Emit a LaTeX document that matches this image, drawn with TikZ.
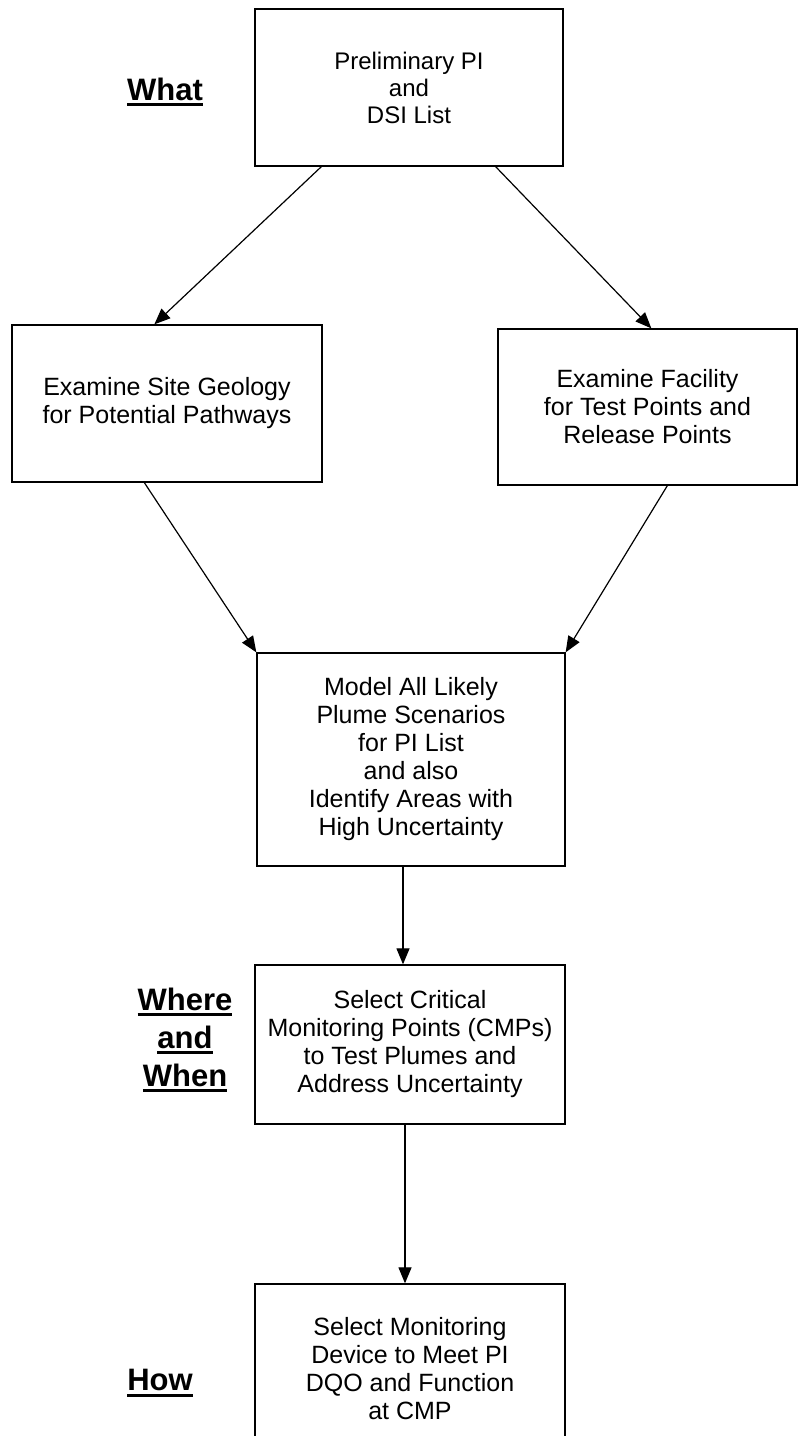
\documentclass[tikz,border=0pt]{standalone}
\usepackage{fontspec}
\setmainfont{Liberation Sans}
\usetikzlibrary{arrows.meta,calc}
\newcommand\myul[1]{\sbox0{#1}\usebox0\llap{\rule[-6pt]{\wd0}{2.8pt}}}
\begin{document}
\begin{tikzpicture}[x=1pt,y=-1pt,
  box/.style={draw, line width=1.3pt, align=center, inner sep=0pt,
    font=\fontsize{25}{28}\selectfont},
  lbl/.style={align=center, inner sep=0pt,
    font=\fontsize{31}{38}\selectfont\bfseries},
  arr/.style={line width=1.2pt, -{Triangle[length=16pt,width=13pt]}}]
\clip (0,0) rectangle (798,1436);
\useasboundingbox (0,0) rectangle (798,1436);
\node[box, minimum width=308pt, minimum height=157pt,
  font=\fontsize{24}{27}\selectfont] (b1) at (409,87.5)
  {Preliminary PI\\and\\DSI List};
\node[box, minimum width=310pt, minimum height=157pt] (b2) at (167,403.5)
  {Examine Site Geology\\for Potential Pathways};
\node[box, minimum width=299pt, minimum height=156pt] (b3) at (647.5,407)
  {Examine Facility\\for Test Points and\\Release Points};
\node[box, minimum width=308pt, minimum height=213pt] (b4) at (411,759.5)
  {Model All Likely\\Plume Scenarios\\for PI List\\and also\\Identify Areas with\\High Uncertainty};
\node[box, minimum width=310pt, minimum height=159pt] (b5) at (410,1044.5)
  {Select Critical\\Monitoring Points (CMPs)\\to Test Plumes and\\Address Uncertainty};
\node[box, minimum width=310pt, minimum height=170pt] (b6) at (410,1369)
  {Select Monitoring\\Device to Meet PI\\DQO and Function\\at CMP};
\node[lbl] (l1) at (165,92) {\myul{What}};
\node[lbl] (l2) at (185,1040) {\myul{Where}\\\myul{and}\\\myul{When}};
\node[lbl] (l3) at (160,1383) {\myul{How}};
\draw[arr] ($(b1.south west)+(67,0)$) -- ($(b2.north west)+(143,0)$);
\draw[arr] ($(b1.south east)+(-68,0)$) -- ($(b3.north west)+(154,0)$);
\draw[arr] ($(b2.south west)+(133,0)$) -- (b4.north west);
\draw[arr] ($(b3.south west)+(170,0)$) -- (b4.north east);
\draw[arr] ([xshift=-8pt]b4.south) -- ([xshift=-7pt]b5.north);
\draw[arr] ([xshift=-5pt]b5.south) -- ([xshift=-5pt]b6.north);
\end{tikzpicture}
\end{document}
